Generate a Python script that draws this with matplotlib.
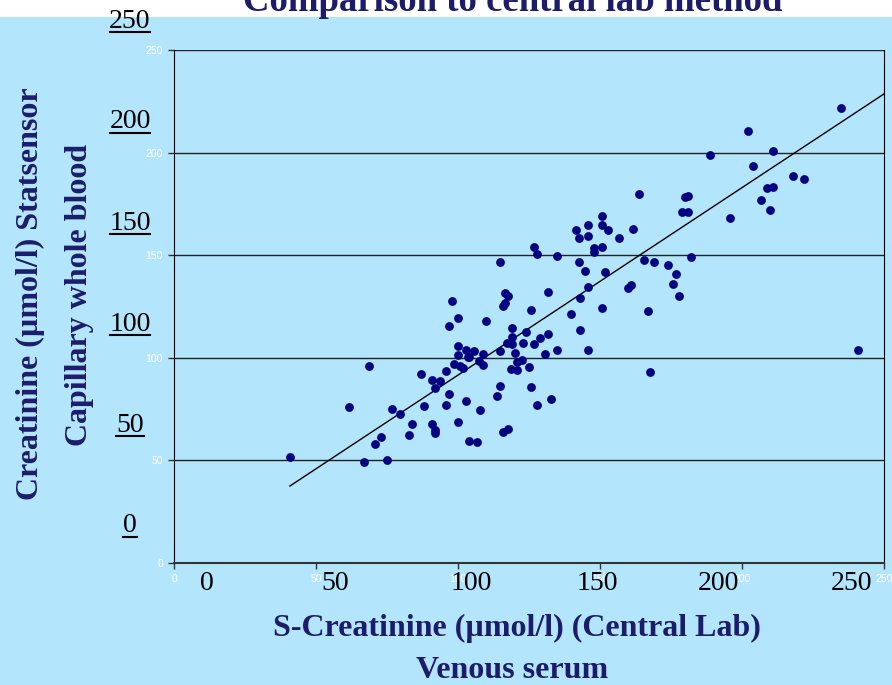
import numpy as np
import matplotlib
matplotlib.use("Agg")
import matplotlib.pyplot as plt
from matplotlib.lines import Line2D
from matplotlib.patches import Rectangle

# central lab (venous serum) vs Statsensor (capillary whole blood), umol/l
lab = [40.8, 61.7, 68.8, 66.9, 74.9, 70.9, 72.8, 76.8, 79.7, 82.9,
       83.9, 86.9, 87.9, 90.8, 93.8, 91.9, 90.8, 91.9, 91.9, 95.9,
       95.9, 96.7, 97.8, 99.9, 96.7, 99.9, 102.8, 99.9, 103.4, 98.7,
       100.7, 101.7, 99.9, 102.7, 104.0, 106.7, 105.7, 108.7, 104.0, 107.5,
       108.7, 107.9, 109.9, 114.8, 116.7, 117.7, 116.7, 115.8, 114.8, 114.8,
       113.8, 118.9, 118.9, 117.1, 118.9, 120.0, 120.8, 122.6, 118.7, 120.8,
       124.9, 122.9, 123.8, 125.7, 126.9, 128.9, 131.8, 130.7, 134.8, 125.7,
       127.8, 132.9, 117.7, 115.8, 126.9, 127.9, 134.8, 131.8, 139.9, 141.7,
       142.7, 145.7, 145.8, 150.8, 150.8, 152.9, 156.8, 161.7, 147.8, 150.8,
       147.8, 142.7, 144.8, 151.8, 145.7, 142.9, 150.8, 142.9, 145.7, 160.0,
       160.9, 163.8, 165.6, 168.9, 173.9, 176.9, 181.9, 175.8, 177.9, 166.8,
       167.7, 179.8, 180.9, 178.8, 180.9, 188.8, 195.8, 202.0, 203.8, 206.7,
       208.7, 210.9, 209.9, 210.9, 217.9, 221.8, 234.9, 240.7]
sensor = [51.5, 75.9, 95.9, 49.4, 50.3, 58.0, 61.4, 74.9, 72.5, 62.4,
          67.9, 92.0, 76.5, 89.0, 88.7, 85.4, 67.7, 64.8, 63.5, 93.4,
          76.9, 82.4, 127.8, 119.4, 115.5, 105.9, 103.9, 101.2, 100.2, 97.0,
          96.0, 95.0, 68.6, 78.8, 59.3, 59.0, 103.5, 102.0, 100.5, 98.6,
          96.3, 74.6, 117.8, 146.5, 131.4, 130.0, 126.6, 125.2, 103.3, 86.3,
          81.5, 114.5, 110.0, 107.1, 106.7, 102.2, 98.0, 98.9, 94.4, 94.2,
          95.4, 107.4, 112.6, 123.4, 106.9, 109.6, 111.7, 102.0, 103.9, 85.8,
          76.9, 79.8, 65.4, 63.8, 154.0, 150.7, 149.8, 131.9, 121.3, 162.4,
          158.2, 164.7, 159.5, 169.1, 164.7, 162.3, 158.4, 162.8, 153.7, 153.8,
          151.4, 146.5, 142.3, 142.0, 134.4, 129.1, 124.4, 113.5, 103.9, 134.2,
          135.3, 180.0, 147.8, 146.8, 145.2, 140.8, 149.0, 136.0, 130.0, 122.8,
          92.9, 178.2, 178.9, 171.1, 171.1, 198.8, 168.3, 210.4, 193.5, 176.9,
          182.9, 183.2, 172.0, 200.8, 188.5, 187.1, 221.9, 103.9]

# regression line as drawn
fit_x = [40.8, 250]
fit_y = [37.5, 228.6]

ticks = [0, 50, 100, 150, 200, 250]

bg = '#b3e5fc'
navy = '#1c1c6b'
W, H = 892, 685

fig = plt.figure(figsize=(W / 100, H / 100), dpi=100, facecolor=bg)
fig.patches.append(Rectangle((0, 1 - 17 / H), 1, 17 / H, transform=fig.transFigure,
                             facecolor='white', edgecolor='none', zorder=0))

ax = fig.add_axes([174 / W, 1 - 563 / H, 710 / W, 513 / H])
ax.set_facecolor(bg)
ax.set_xlim(0, 250)
ax.set_ylim(0, 250)
ax.set_xticks(ticks)
ax.set_yticks(ticks)
ax.tick_params(length=4, width=1, colors='#333333', labelcolor='white', labelsize=7.5, pad=4)
for lab_t in ax.get_xticklabels() + ax.get_yticklabels():
    lab_t.set_family('Liberation Sans')
for y in ticks[1:]:
    ax.axhline(y, color='#222222', lw=1, zorder=1)
ax.spines['top'].set_visible(False)
ax.spines['left'].set_color('black')
ax.spines['right'].set_color('black')
ax.spines['bottom'].set_color('#333333')
ax.spines['bottom'].set_linewidth(1.5)

ax.scatter(lab, sensor, s=40, color='#000080', zorder=3, linewidths=0)
ax.plot(fit_x, fit_y, color='black', lw=1, zorder=2)

serif = 'Liberation Serif'
fig.text(513 / W, 1 - 11 / H, 'Comparison to central lab method', ha='center', va='baseline',
         fontsize=26.5, fontweight='bold', family=serif, color=navy)

fig.text(517 / W, 1 - 628 / H, 'S-Creatinine (\u00b5mol/l) (Central Lab)', ha='center', va='center',
         fontsize=23, fontweight='bold', family=serif, color=navy)
fig.text(512 / W, 1 - 670 / H, 'Venous serum', ha='center', va='center',
         fontsize=23, fontweight='bold', family=serif, color=navy)
fig.text(30 / W, 1 - 294 / H, 'Creatinine (\u00b5mol/l) Statsensor', ha='center', va='center',
         rotation=90, fontsize=23, fontweight='bold', family=serif, color=navy)
fig.text(80 / W, 1 - 295 / H, 'Capillary whole blood', ha='center', va='center',
         rotation=90, fontsize=23, fontweight='bold', family=serif, color=navy)

# large overlaid tick numbers (pasted text on the slide)
ypos = [526, 425, 324, 223, 122, 21]
for t, yp in zip(ticks, ypos):
    s = str(t)
    fig.text(130 / W, 1 - yp / H, s, ha='center', va='center', fontsize=20,
             family=serif, color='black')
    half = len(s) * 13.5 / 2
    fig.add_artist(Line2D([(130 - half) / W, (130 + half) / W],
                          [1 - (yp + 11) / H, 1 - (yp + 11) / H],
                          color='black', lw=1.5))
xpos = [207, 335, 471, 597, 718, 851]
for t, xp in zip(ticks, xpos):
    fig.text(xp / W, 1 - 583 / H, str(t), ha='center', va='center', fontsize=20,
             family=serif, color='black')

fig.savefig('out.png', dpi=100, facecolor=bg)
